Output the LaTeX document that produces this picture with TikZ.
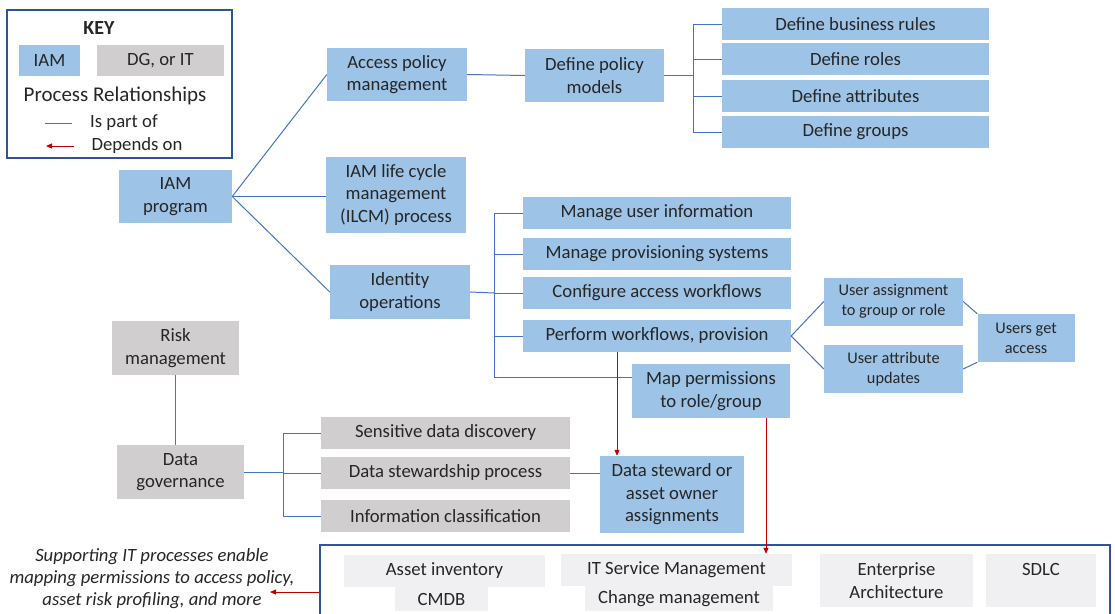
\documentclass[tikz,border=0pt]{standalone}
\usepackage{fontspec}
\setmainfont{Carlito}
\usetikzlibrary{arrows.meta}
\definecolor{iamblue}{HTML}{9DC3E6}
\definecolor{dggray}{HTML}{D0CECE}
\definecolor{itgray}{HTML}{F0F0F2}
\definecolor{partline}{HTML}{4472C4}
\definecolor{depline}{HTML}{C00000}
\definecolor{frameblue}{HTML}{2F5597}
\definecolor{txt}{HTML}{262626}

\begin{document}
\begin{tikzpicture}[x=1pt, y=-1pt,
  every node/.style={font=\fontsize{18.7}{22.5}\selectfont, text=txt, inner sep=0pt, align=center},
  iambox/.style={fill=iamblue},
  dgbox/.style={fill=dggray},
  itbox/.style={fill=itgray},
  smalltext/.style={font=\fontsize{16.3}{20}\selectfont},
  part/.style={draw=partline, line width=1pt},
  dep/.style={draw=depline, line width=1pt, -{Triangle[length=6pt,width=5pt]}}]
  \def\rowh{32}
  \def\rulew{267}
  \def\opw{268}
  \def\dgw{249}

  \useasboundingbox (0,0) rectangle (1115,613);

  \node[draw=frameblue, line width=1.2pt, minimum width=225, minimum height=148] (key) at (119.5,84) {};
  \node[font=\bfseries\fontsize{20}{24}\selectfont] (keytitle) at (99,28) {KEY};
  \node[iambox, minimum width=61, minimum height=31] (keyiam) at (49.5,60.5) {IAM};
  \node[dgbox, minimum width=127, minimum height=31] (keydg) at (160.5,60.5) {DG, or IT};
  \node[font=\fontsize{21}{24}\selectfont] (keyrel) at (115,96) {Process Relationships};
  \coordinate (partA) at (45,123);
  \coordinate (partB) at (72,123);
  \coordinate (depA) at (74,146);
  \coordinate (depB) at (46,146);
  \node (keypart) at (124,123) {Is part of};
  \node (keydep) at (137,146) {Depends on};
  \draw[part] (partA) -- (partB);
  \draw[dep] (depA) -- (depB);

  \node[iambox, minimum width=113, minimum height=53] (iam) at (175.5,196.5) {IAM\\program};
  \node[iambox, minimum width=140, minimum height=53] (apm) at (397,74.5) {Access policy\\management};
  \node[iambox, minimum width=139, minimum height=53] (dpm) at (594.5,75.5) {Define policy\\models};
  \node[iambox, minimum width=\rulew, minimum height=\rowh] (dbr) at (855.5,24) {Define business rules};
  \node[iambox, minimum width=\rulew, minimum height=\rowh] (drl) at (855.5,59) {Define roles};
  \node[iambox, minimum width=\rulew, minimum height=\rowh] (dat) at (855.5,96) {Define attributes};
  \node[iambox, minimum width=\rulew, minimum height=\rowh] (dgr) at (855.5,132) {Define groups};

  \node[iambox, minimum width=140, minimum height=76] (ilcm) at (396,195) {IAM life cycle\\management\\(ILCM) process};
  \node[iambox, minimum width=140, minimum height=54] (idop) at (400,292) {Identity\\operations};
  \node[iambox, minimum width=\opw, minimum height=\rowh] (mui) at (657,213) {Manage user information};
  \node[iambox, minimum width=\opw, minimum height=\rowh] (mps) at (657,254) {Manage provisioning systems};
  \node[iambox, minimum width=\opw, minimum height=\rowh] (caw) at (657,293) {Configure access workflows};
  \node[iambox, minimum width=\opw, minimum height=\rowh] (pwp) at (657,336) {Perform workflows, provision};
  \node[iambox, minimum width=158, minimum height=54] (mpr) at (711,391) {Map permissions\\to role/group};
  \node[iambox, smalltext, minimum width=139, minimum height=48] (uag) at (893.5,301.5) {User assignment\\to group or role};
  \node[iambox, smalltext, minimum width=139, minimum height=48] (uau) at (893.5,369) {User attribute\\updates};
  \node[iambox, smalltext, minimum width=97, minimum height=48] (uga) at (1026,338) {Users get\\access};

  \node[dgbox, minimum width=127, minimum height=54] (risk) at (175.5,348) {Risk\\management};
  \node[dgbox, minimum width=127, minimum height=54] (dgov) at (180.5,472) {Data\\governance};
  \node[dgbox, minimum width=\dgw, minimum height=\rowh] (sdd) at (445.5,433) {Sensitive data discovery};
  \node[dgbox, minimum width=\dgw, minimum height=\rowh] (dsp) at (445.5,473) {Data stewardship process};
  \node[dgbox, minimum width=\dgw, minimum height=\rowh] (icl) at (445.5,516) {Information classification};
  \node[iambox, minimum width=144, minimum height=77] (dsa) at (672,494.5) {Data steward or\\asset owner\\assignments};

  \node[draw=frameblue, line width=1.2pt, minimum width=790, minimum height=80] (itframe) at (715,585) {};
  \node[itbox, minimum width=201, minimum height=\rowh] (ai) at (444.5,571) {Asset inventory};
  \node[itbox, minimum width=93, minimum height=24] (cmdb) at (441.5,599) {CMDB};
  \node[itbox, minimum width=231, minimum height=\rowh] (itsm) at (676.5,570) {IT Service Management};
  \node[itbox, minimum width=188, minimum height=25] (chm) at (679,598.5) {Change management};
  \node[itbox, minimum width=153, minimum height=53] (ea) at (896.5,580.5) {Enterprise\\Architecture};
  \node[itbox, minimum width=110, minimum height=53] (sdlc) at (1041,580.5) {SDLC\\\mbox{}};
  \node[font=\itshape\fontsize{18.7}{22}\selectfont] (supp) at (152,579) {Supporting IT processes enable\\mapping permissions to access policy,\\asset risk profiling, and more};

  \coordinate (fa) at (693,75.5);
  \coordinate (fb) at (494,293);
  \coordinate (fc) at (283,472);
  \coordinate (pwpout) at ([xshift=-40pt]pwp.south);
  \coordinate (mprout) at ([xshift=55pt]mpr.south);
  \coordinate (supptip) at (270,592);

  \draw[part] (iam.east) edge (apm.west);
  \draw[part] (iam.east) edge (iam.east -| ilcm.west);
  \draw[part] (iam.east) edge (idop.west);

  \draw[part] (apm.east) edge (dpm.west);
  \draw[part] (dpm.east) -- (fa);
  \foreach \n in {dbr,drl,dat,dgr}
    \draw[part] (fa) |- (\n.west);

  \draw[part] (idop.east) -- (fb);
  \foreach \n in {mui,mps,caw,pwp}
    \draw[part] (fb) |- (\n.west);
  \draw[part] (fb) |- ([yshift=14pt]mpr.west);

  \draw[part] (pwp.east) edge (uag.west);
  \draw[part] (pwp.east) edge (uau.west);
  \draw[part] (uag.east) edge (uga.north west);
  \draw[part] (uau.east) edge (uga.south west);

  \draw[part] (risk.south) edge (risk.south |- dgov.north);
  \draw[part] (dgov.east) -- (fc);
  \foreach \n in {sdd,dsp,icl}
    \draw[part] (fc) |- (\n.west);
  \draw[part] (dsp.east) edge (dsp.east -| dsa.west);

  \draw[dep] (pwpout) -- (pwpout |- dsa.north);
  \draw[dep] (mprout) -- (mprout |- itsm.north);
  \draw[dep] (itframe.west |- supptip) -- (supptip);
\end{tikzpicture}
\end{document}
